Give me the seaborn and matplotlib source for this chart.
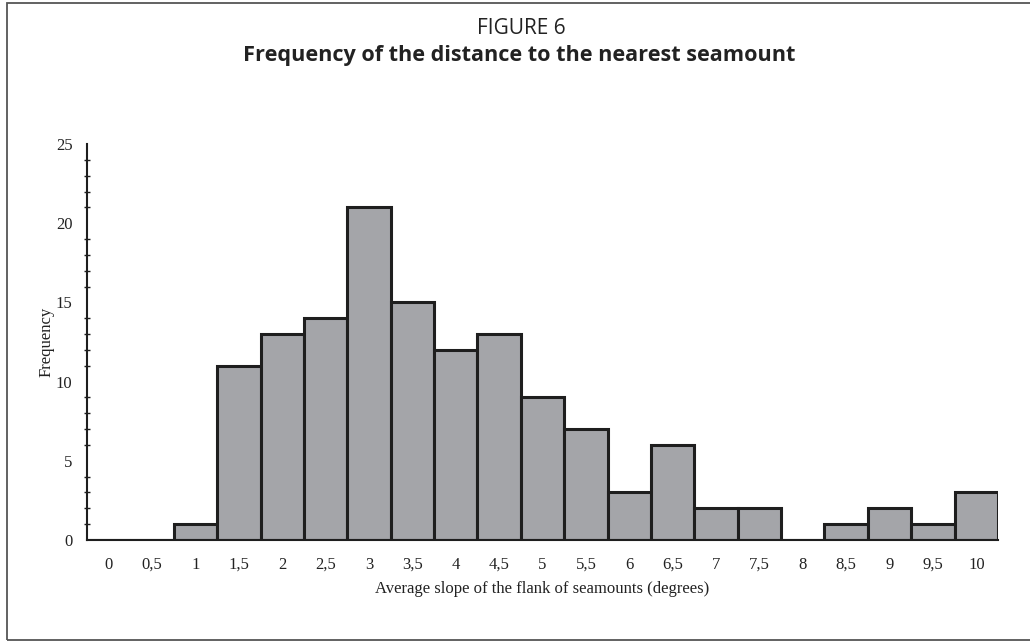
import numpy as np
import pandas as pd
import matplotlib
matplotlib.use('Agg')
import matplotlib.pyplot as plt
import seaborn as sns
from matplotlib.patches import Rectangle
from matplotlib.ticker import MultipleLocator, FixedLocator

# slope classes (degrees) and counts
slope_labels = ['0', '0,5', '1', '1,5', '2', '2,5', '3', '3,5', '4', '4,5', '5',
                '5,5', '6', '6,5', '7', '7,5', '8', '8,5', '9', '9,5', '10']
counts = [0, 0, 1, 11, 13, 14, 21, 15, 12, 13, 9, 7, 3, 6, 2, 2, 0, 1, 2, 1, 3]

df = pd.DataFrame({'slope': slope_labels, 'count': counts})

sns.set_style('white')
plt.rcParams['font.family'] = ['Liberation Serif', 'DejaVu Serif']

fig = plt.figure(figsize=(10.30, 6.42), dpi=100)
ax = fig.add_axes([87 / 1030, 1 - 540 / 642, (998 - 87) / 1030, (540 - 144) / 642])

sns.barplot(data=df, x='slope', y='count', order=slope_labels, color='#a4a5a9',
            saturation=1, width=1.0, edgecolor='#1e1e1e', linewidth=2.2, ax=ax)

n = len(slope_labels)
ax.set_xlim(-0.5, n - 0.5)
ax.set_ylim(0, 25)

# ticks sit on the bar edges, labels sit under the bar centres
ax.xaxis.set_major_locator(FixedLocator(np.arange(n + 1) - 0.5))
ax.xaxis.set_minor_locator(FixedLocator(np.arange(n)))
ax.set_xticklabels([], minor=False)
ax.set_xticklabels(slope_labels, minor=True)
ax.tick_params(axis='x', which='major', direction='inout', length=10, width=1.2,
               color='#1e1e1e')
ax.tick_params(axis='x', which='minor', length=0, pad=12, labelsize=12,
               labelcolor='#222222')

ax.yaxis.set_major_locator(MultipleLocator(5))
ax.yaxis.set_minor_locator(MultipleLocator(1))
ax.tick_params(axis='y', which='major', direction='inout', length=9, width=1.2,
               pad=6, labelsize=12, labelcolor='#222222', color='#1e1e1e')
ax.tick_params(axis='y', which='minor', direction='inout', length=5, width=1.0,
               color='#1e1e1e', left=True)

for side in ['top', 'right']:
    ax.spines[side].set_visible(False)
for side in ['left', 'bottom']:
    ax.spines[side].set_color('#1e1e1e')
    ax.spines[side].set_linewidth(1.5)

ax.set_xlabel('Average slope of the flank of seamounts (degrees)', fontsize=12,
              color='#222222', labelpad=6)
ax.set_ylabel('Frequency', fontsize=12, color='#222222', labelpad=1)

fig.text(0.506, 1 - 28 / 642, 'FIGURE 6', ha='center', va='center',
         fontsize=15, family=['Open Sans', 'DejaVu Sans'], color='#222222')
fig.text(0.504, 1 - 56 / 642, 'Frequency of the distance to the nearest seamount',
         ha='center', va='center', fontsize=15.6, fontweight='bold',
         family=['Open Sans', 'DejaVu Sans'], color='#222222')

# outer frame of the figure box
fig.patches.append(Rectangle((7 / 1030, 2 / 642), 1.05, 1 - 5 / 642,
                             transform=fig.transFigure, fill=False,
                             edgecolor='#555555', linewidth=1.3))

fig.savefig('out.png', dpi=100)
